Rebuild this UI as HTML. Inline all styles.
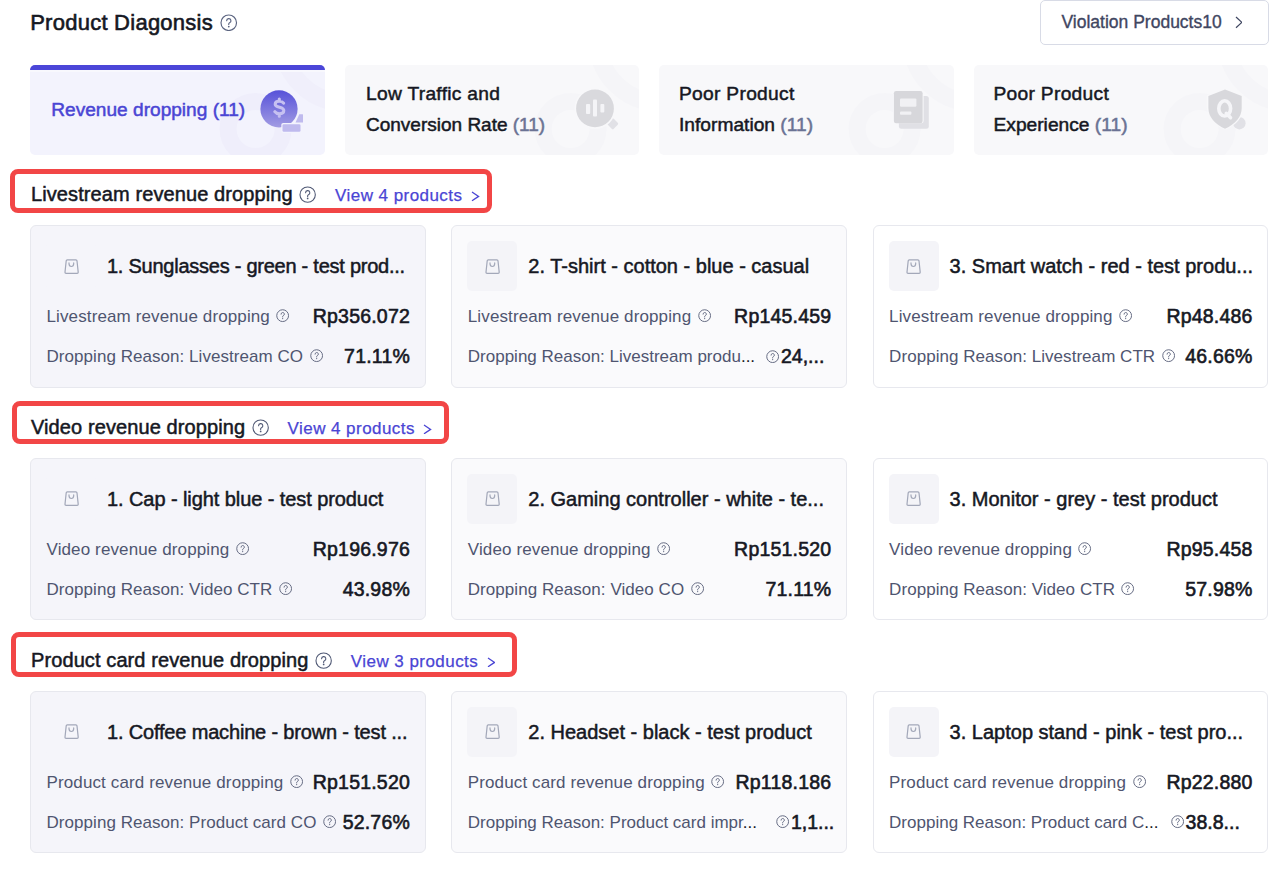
<!DOCTYPE html>
<html><head><meta charset="utf-8"><title>Product Diagnosis</title>
<style>
html,body{margin:0;padding:0;background:#fff;width:1280px;height:886px;overflow:hidden;position:relative}
body{font-family:"Liberation Sans",sans-serif}
.a{position:absolute;display:block}
.t{position:absolute;white-space:nowrap}
.tab{border-radius:5px;overflow:hidden}
</style></head><body>
<div class="t" style="left:30.2px;top:9.38px;font-size:22px;line-height:28px;color:#161823;font-weight:400;-webkit-text-stroke:0.6px #161823;letter-spacing:0.25px;">Product Diagonsis</div>
<svg class="a" style="left:220.3px;top:13.8px" width="17.5" height="17.5" viewBox="0 0 16 16"><circle cx="8" cy="8" r="7.1" fill="none" stroke="#5b6480" stroke-width="1.05"/><path d="M6.1 6.2a1.95 1.95 0 1 1 2.7 1.8c-.5.25-.8.55-.8 1.05v.55" fill="none" stroke="#5b6480" stroke-width="1.05" stroke-linecap="round"/><circle cx="8" cy="11.5" r=".8" fill="#5b6480"/></svg>
<div class="a" style="left:1040px;top:0px;width:228.6px;height:45px;border:1px solid #d8dbe6;border-radius:5px;box-sizing:border-box;background:#fff"></div>
<div class="t" style="left:1061.5px;top:10.94px;font-size:17.5px;line-height:22px;color:#3f4661;font-weight:400;-webkit-text-stroke:0.35px #3f4661;">Violation Products10</div>
<svg class="a" style="left:1234.6px;top:16.4px" width="7.8" height="12.8" viewBox="0 0 7.8 12.8"><path d="M1 1 L6.8 6.4 L1 11.8" fill="none" stroke="#3f4661" stroke-width="1.2" stroke-linejoin="miter"/></svg>
<div class="a tab" style="left:30px;top:65px;width:294.6px;height:90px;background:#f3f3fd"><svg class="a" style="left:0;top:0" width="294.6" height="90"><circle cx="225.6" cy="64" r="27.5" fill="none" stroke="#efeefb" stroke-width="17"/><circle cx="315" cy="-25" r="62.5" fill="none" stroke="#f0effb" stroke-width="18"/></svg><div class="a" style="left:0;top:5px;width:294.6px;height:2px;background:#f8f8fd"></div><div class="a" style="left:0;top:0;width:294.6px;height:5px;background:#4b46d8"></div></div>
<div class="a tab" style="left:344.6px;top:65px;width:294.6px;height:90px;background:#f8f8fa"><svg class="a" style="left:0;top:0" width="294.6" height="90"><circle cx="225.6" cy="64" r="27.5" fill="none" stroke="#f5f5f8" stroke-width="17"/><circle cx="315" cy="-25" r="62.5" fill="none" stroke="#f5f5f8" stroke-width="18"/></svg></div>
<div class="a tab" style="left:659.2px;top:65px;width:294.6px;height:90px;background:#f8f8fa"><svg class="a" style="left:0;top:0" width="294.6" height="90"><circle cx="225.6" cy="64" r="27.5" fill="none" stroke="#f5f5f8" stroke-width="17"/><circle cx="315" cy="-25" r="62.5" fill="none" stroke="#f5f5f8" stroke-width="18"/></svg></div>
<div class="a tab" style="left:973.8px;top:65px;width:294.6px;height:90px;background:#f8f8fa"><svg class="a" style="left:0;top:0" width="294.6" height="90"><circle cx="225.6" cy="64" r="27.5" fill="none" stroke="#f5f5f8" stroke-width="17"/><circle cx="315" cy="-25" r="62.5" fill="none" stroke="#f5f5f8" stroke-width="18"/></svg></div>
<div class="t" style="left:51.3px;top:97.68px;font-size:19.1px;line-height:24px;color:#4a45d4;font-weight:400;-webkit-text-stroke:0.5px #4a45d4;">Revenue dropping (11)</div>
<svg class="a" style="left:255px;top:85px" width="52" height="52" viewBox="0 0 52 52">
<defs><linearGradient id="cg" x1="0" y1="0" x2="0" y2="1"><stop offset="0" stop-color="#5752d9"/><stop offset="1" stop-color="#a29ce3"/></linearGradient></defs>
<circle cx="24" cy="23.9" r="18.6" fill="url(#cg)"/>
<path d="M28.6 18.2c-.8-1.2-2.3-1.9-4.3-1.9-2.5 0-4.1 1.2-4.1 2.9 0 4 8.6 2.3 8.6 6.3 0 1.9-1.8 3.2-4.5 3.2-2 0-3.6-.7-4.5-2M24.3 14v2.3M24.3 28.7v2.6" fill="none" stroke="#c6c1f1" stroke-width="3.1" stroke-linecap="round"/>
<rect x="26.3" y="38.0" width="20.4" height="10" rx="1.8" fill="#f3f3fd"/>
<rect x="27.5" y="39.2" width="18" height="7.6" rx="1.3" fill="#bfbaee"/>
<path d="M39 38 L43.5 28.2 L49 28.2 L49 38 Z" fill="#f3f3fd"/>
<path d="M40.5 37.4 L44.3 29.2 L47.8 29.2 Q48 29.2 48 29.6 L48 37.4 Z" fill="#bfbaee"/>
</svg>
<div class="t" style="left:366px;top:82.15px;font-size:19.2px;line-height:24px;color:#161823;font-weight:400;-webkit-text-stroke:0.5px #161823;letter-spacing:0.3px;">Low Traffic and</div>
<div class="t" style="left:366px;top:112.67px;font-size:19.0px;line-height:24px;color:#161823;font-weight:400;-webkit-text-stroke:0.5px #161823;">Conversion Rate <span style="color:#6b7394;-webkit-text-stroke:0.5px #6b7394">(11)</span></div>
<svg class="a" style="left:570px;top:84px" width="52" height="52" viewBox="0 0 52 52">
<rect x="38.5" y="35.5" width="8.5" height="8.5" rx="1.5" transform="rotate(45 42.75 39.75)" fill="#e1e1e6"/>
<circle cx="25" cy="24.4" r="20.6" fill="#f8f8fa"/>
<circle cx="25" cy="24.4" r="18.9" fill="#d9d9dd"/>
<rect x="16" y="20" width="4.2" height="10" rx="1" fill="#f4f4f7"/>
<rect x="23" y="15.5" width="4" height="17" rx="1" fill="#f4f4f7"/>
<rect x="30.4" y="20" width="3.9" height="8.5" rx="1" fill="#f4f4f7"/>
</svg>
<div class="t" style="left:679px;top:82.15px;font-size:19.2px;line-height:24px;color:#161823;font-weight:400;-webkit-text-stroke:0.5px #161823;letter-spacing:0.3px;">Poor Product</div>
<div class="t" style="left:679px;top:112.60px;font-size:19.2px;line-height:24px;color:#161823;font-weight:400;-webkit-text-stroke:0.5px #161823;">Information <span style="color:#6b7394;-webkit-text-stroke:0.5px #6b7394">(11)</span></div>
<svg class="a" style="left:885px;top:84px" width="52" height="52" viewBox="0 0 52 52">
<rect x="13.9" y="12" width="29.9" height="32.8" rx="2.5" fill="#e0e0e5"/>
<rect x="8" y="6" width="30.6" height="33.2" rx="2.5" fill="#f8f8fa"/>
<rect x="8.9" y="7" width="28.7" height="32.2" rx="2.2" fill="#d7d7db"/>
<rect x="15" y="14.4" width="16.4" height="8.4" rx="1.2" fill="#f1f1f4"/>
<rect x="15" y="27.4" width="11.4" height="3.3" rx="1" fill="#f1f1f4"/>
</svg>
<div class="t" style="left:993.5px;top:82.15px;font-size:19.2px;line-height:24px;color:#161823;font-weight:400;-webkit-text-stroke:0.5px #161823;letter-spacing:0.3px;">Poor Product</div>
<div class="t" style="left:993.5px;top:112.60px;font-size:19.2px;line-height:24px;color:#161823;font-weight:400;-webkit-text-stroke:0.5px #161823;">Experience <span style="color:#6b7394;-webkit-text-stroke:0.5px #6b7394">(11)</span></div>
<svg class="a" style="left:1200px;top:84px" width="52" height="52" viewBox="0 0 52 52">
<circle cx="39.4" cy="39.2" r="6.2" fill="#e1e1e6"/>
<path d="M25 4.6 L43.2 11.6 V24 C43.2 33.5 36 41.2 25 45.8 C14 41.2 6.9 33.5 6.9 24 V11.6 Z" fill="#f8f8fa"/>
<path d="M25 5.6 L41.7 12 V24 C41.7 33 35.2 40.2 25 44.8 C14.8 40.2 8.4 33 8.4 24 V12 Z" fill="#d8d8dc"/>
<ellipse cx="24.7" cy="24.4" rx="5.9" ry="7.6" fill="none" stroke="#f5f5f8" stroke-width="3.6"/><path d="M26.2 29.2 L30.6 33.8" stroke="#f5f5f8" stroke-width="3.4" stroke-linecap="round"/>
</svg>
<div class="a" style="left:9.5px;top:169px;width:482.0px;height:44px;border:5px solid #f24646;border-radius:8px;box-sizing:border-box"></div>
<div class="t" style="left:31px;top:182.27px;font-size:20px;line-height:25px;color:#161823;font-weight:400;-webkit-text-stroke:0.5px #161823;letter-spacing:0.1px;">Livestream revenue dropping<span style="margin-left:6.5px"></span><svg style="display:inline-block;vertical-align:-2.5px" width="17.3" height="17.3" viewBox="0 0 16 16"><circle cx="8" cy="8" r="7.1" fill="none" stroke="#4f5874" stroke-width="1.0"/><path d="M6.1 6.2a1.95 1.95 0 1 1 2.7 1.8c-.5.25-.8.55-.8 1.05v.55" fill="none" stroke="#4f5874" stroke-width="1.0" stroke-linecap="round"/><circle cx="8" cy="11.5" r=".8" fill="#4f5874"/></svg><span style="margin-left:18.5px;color:#4a45d4;-webkit-text-stroke:0.25px #4a45d4;font-size:17px;letter-spacing:0.45px">View 4 products</span><span style="margin-left:8.5px"></span><svg style="display:inline-block;vertical-align:-0.5px" width="8.6" height="10.8" viewBox="0 0 8.6 10.8"><path d="M1 1 L7.6 5.4 L1 9.8" fill="none" stroke="#4a45d4" stroke-width="1.3"/></svg></div>
<div class="a" style="left:30px;top:225.4px;width:395.8px;height:162.3px;border:1px solid #e7e8ee;border-radius:6px;box-sizing:border-box;background:#f5f5fa"></div>
<div class="a" style="left:46px;top:241.4px;width:50px;height:50px;background:#f5f5fa;border-radius:5px"></div>
<svg class="a" style="left:63.5px;top:258.7px" width="16" height="16" viewBox="0 0 16 16"><path d="M3.2 0.9 H11.9 Q12.9 0.9 13.0 1.9 L14.2 13.1 Q14.3 14.3 13.1 14.3 H2.1 Q0.9 14.3 1.0 13.1 L2.2 1.9 Q2.3 0.9 3.2 0.9 Z" fill="none" stroke="#a3a8b9" stroke-width="1.2"/><path d="M5.0 3.9 V4.6 Q5.0 7.5 7.35 7.5 Q9.7 7.5 9.7 4.6 V3.9" fill="none" stroke="#a3a8b9" stroke-width="1.2" stroke-linecap="round"/></svg>
<div class="t" style="left:107px;top:254.17px;font-size:20px;line-height:25px;color:#161823;font-weight:400;-webkit-text-stroke:0.5px #161823;letter-spacing:-0.25px;">1. Sunglasses - green - test prod...</div>
<div class="t" style="left:46.5px;top:306.41px;font-size:17px;line-height:21px;color:#4f5570;font-weight:400;letter-spacing:0.12px;">Livestream revenue dropping<span style="margin-left:6.5px"></span><svg style="display:inline-block;vertical-align:-0.3px" width="13.3" height="13.3" viewBox="0 0 16 16"><circle cx="8" cy="8" r="7.1" fill="none" stroke="#666c84" stroke-width="1.2"/><path d="M6.1 6.2a1.95 1.95 0 1 1 2.7 1.8c-.5.25-.8.55-.8 1.05v.55" fill="none" stroke="#666c84" stroke-width="1.2" stroke-linecap="round"/><circle cx="8" cy="11.5" r=".8" fill="#666c84"/></svg></div>
<div class="t" style="right:870px;top:304.04px;font-size:19.5px;line-height:24px;color:#161823;font-weight:400;-webkit-text-stroke:0.6px #161823;letter-spacing:0.2px;">Rp356.072</div>
<div class="t" style="left:46.5px;top:346.41px;font-size:17px;line-height:21px;color:#4f5570;font-weight:400;letter-spacing:0.05px;">Dropping Reason: Livestream CO<span style="margin-left:6.5px"></span><svg style="display:inline-block;vertical-align:-0.3px" width="13.3" height="13.3" viewBox="0 0 16 16"><circle cx="8" cy="8" r="7.1" fill="none" stroke="#666c84" stroke-width="1.2"/><path d="M6.1 6.2a1.95 1.95 0 1 1 2.7 1.8c-.5.25-.8.55-.8 1.05v.55" fill="none" stroke="#666c84" stroke-width="1.2" stroke-linecap="round"/><circle cx="8" cy="11.5" r=".8" fill="#666c84"/></svg></div>
<div class="t" style="right:870px;top:344.04px;font-size:19.5px;line-height:24px;color:#161823;font-weight:400;-webkit-text-stroke:0.6px #161823;letter-spacing:0.2px;">71.11%</div>
<div class="a" style="left:451.3px;top:225.4px;width:395.8px;height:162.3px;border:1px solid #e7e8ee;border-radius:6px;box-sizing:border-box;background:#fafafc"></div>
<div class="a" style="left:467.3px;top:241.4px;width:50px;height:50px;background:#f4f4f8;border-radius:5px"></div>
<svg class="a" style="left:484.8px;top:258.7px" width="16" height="16" viewBox="0 0 16 16"><path d="M3.2 0.9 H11.9 Q12.9 0.9 13.0 1.9 L14.2 13.1 Q14.3 14.3 13.1 14.3 H2.1 Q0.9 14.3 1.0 13.1 L2.2 1.9 Q2.3 0.9 3.2 0.9 Z" fill="none" stroke="#a3a8b9" stroke-width="1.2"/><path d="M5.0 3.9 V4.6 Q5.0 7.5 7.35 7.5 Q9.7 7.5 9.7 4.6 V3.9" fill="none" stroke="#a3a8b9" stroke-width="1.2" stroke-linecap="round"/></svg>
<div class="t" style="left:528.3px;top:254.17px;font-size:20px;line-height:25px;color:#161823;font-weight:400;-webkit-text-stroke:0.5px #161823;">2. T-shirt - cotton - blue - casual</div>
<div class="t" style="left:467.8px;top:306.41px;font-size:17px;line-height:21px;color:#4f5570;font-weight:400;letter-spacing:0.12px;">Livestream revenue dropping<span style="margin-left:6.5px"></span><svg style="display:inline-block;vertical-align:-0.3px" width="13.3" height="13.3" viewBox="0 0 16 16"><circle cx="8" cy="8" r="7.1" fill="none" stroke="#666c84" stroke-width="1.2"/><path d="M6.1 6.2a1.95 1.95 0 1 1 2.7 1.8c-.5.25-.8.55-.8 1.05v.55" fill="none" stroke="#666c84" stroke-width="1.2" stroke-linecap="round"/><circle cx="8" cy="11.5" r=".8" fill="#666c84"/></svg></div>
<div class="t" style="right:448.70000000000005px;top:304.04px;font-size:19.5px;line-height:24px;color:#161823;font-weight:400;-webkit-text-stroke:0.6px #161823;letter-spacing:0.2px;">Rp145.459</div>
<div class="t" style="left:467.8px;top:346.41px;font-size:17px;line-height:21px;color:#4f5570;font-weight:400;">Dropping Reason: Livestream produ<span style="color:#161823">...</span></div>
<svg class="a" style="left:766.0px;top:349.8px" width="13.3" height="13.3" viewBox="0 0 16 16"><circle cx="8" cy="8" r="7.1" fill="none" stroke="#666c84" stroke-width="1.2"/><path d="M6.1 6.2a1.95 1.95 0 1 1 2.7 1.8c-.5.25-.8.55-.8 1.05v.55" fill="none" stroke="#666c84" stroke-width="1.2" stroke-linecap="round"/><circle cx="8" cy="11.5" r=".8" fill="#666c84"/></svg>
<div class="t" style="left:781.0px;top:344.04px;font-size:19.5px;line-height:24px;color:#161823;font-weight:400;-webkit-text-stroke:0.6px #161823;">24,...</div>
<div class="a" style="left:872.6px;top:225.4px;width:395.8px;height:162.3px;border:1px solid #e7e8ee;border-radius:6px;box-sizing:border-box;background:#fff"></div>
<div class="a" style="left:888.6px;top:241.4px;width:50px;height:50px;background:#f4f4f8;border-radius:5px"></div>
<svg class="a" style="left:906.1px;top:258.7px" width="16" height="16" viewBox="0 0 16 16"><path d="M3.2 0.9 H11.9 Q12.9 0.9 13.0 1.9 L14.2 13.1 Q14.3 14.3 13.1 14.3 H2.1 Q0.9 14.3 1.0 13.1 L2.2 1.9 Q2.3 0.9 3.2 0.9 Z" fill="none" stroke="#a3a8b9" stroke-width="1.2"/><path d="M5.0 3.9 V4.6 Q5.0 7.5 7.35 7.5 Q9.7 7.5 9.7 4.6 V3.9" fill="none" stroke="#a3a8b9" stroke-width="1.2" stroke-linecap="round"/></svg>
<div class="t" style="left:949.6px;top:254.17px;font-size:20px;line-height:25px;color:#161823;font-weight:400;-webkit-text-stroke:0.5px #161823;">3. Smart watch - red - test produ...</div>
<div class="t" style="left:889.1px;top:306.41px;font-size:17px;line-height:21px;color:#4f5570;font-weight:400;letter-spacing:0.12px;">Livestream revenue dropping<span style="margin-left:6.5px"></span><svg style="display:inline-block;vertical-align:-0.3px" width="13.3" height="13.3" viewBox="0 0 16 16"><circle cx="8" cy="8" r="7.1" fill="none" stroke="#666c84" stroke-width="1.2"/><path d="M6.1 6.2a1.95 1.95 0 1 1 2.7 1.8c-.5.25-.8.55-.8 1.05v.55" fill="none" stroke="#666c84" stroke-width="1.2" stroke-linecap="round"/><circle cx="8" cy="11.5" r=".8" fill="#666c84"/></svg></div>
<div class="t" style="right:27.40000000000009px;top:304.04px;font-size:19.5px;line-height:24px;color:#161823;font-weight:400;-webkit-text-stroke:0.6px #161823;letter-spacing:0.2px;">Rp48.486</div>
<div class="t" style="left:889.1px;top:346.41px;font-size:17px;line-height:21px;color:#4f5570;font-weight:400;letter-spacing:0.05px;">Dropping Reason: Livestream CTR<span style="margin-left:6.5px"></span><svg style="display:inline-block;vertical-align:-0.3px" width="13.3" height="13.3" viewBox="0 0 16 16"><circle cx="8" cy="8" r="7.1" fill="none" stroke="#666c84" stroke-width="1.2"/><path d="M6.1 6.2a1.95 1.95 0 1 1 2.7 1.8c-.5.25-.8.55-.8 1.05v.55" fill="none" stroke="#666c84" stroke-width="1.2" stroke-linecap="round"/><circle cx="8" cy="11.5" r=".8" fill="#666c84"/></svg></div>
<div class="t" style="right:27.40000000000009px;top:344.04px;font-size:19.5px;line-height:24px;color:#161823;font-weight:400;-webkit-text-stroke:0.6px #161823;letter-spacing:0.2px;">46.66%</div>
<div class="a" style="left:12.2px;top:401px;width:436.6px;height:42.80000000000001px;border:5px solid #f24646;border-radius:8px;box-sizing:border-box"></div>
<div class="t" style="left:31px;top:414.97px;font-size:20px;line-height:25px;color:#161823;font-weight:400;-webkit-text-stroke:0.5px #161823;letter-spacing:0.1px;">Video revenue dropping<span style="margin-left:6.5px"></span><svg style="display:inline-block;vertical-align:-2.5px" width="17.3" height="17.3" viewBox="0 0 16 16"><circle cx="8" cy="8" r="7.1" fill="none" stroke="#4f5874" stroke-width="1.0"/><path d="M6.1 6.2a1.95 1.95 0 1 1 2.7 1.8c-.5.25-.8.55-.8 1.05v.55" fill="none" stroke="#4f5874" stroke-width="1.0" stroke-linecap="round"/><circle cx="8" cy="11.5" r=".8" fill="#4f5874"/></svg><span style="margin-left:18.5px;color:#4a45d4;-webkit-text-stroke:0.25px #4a45d4;font-size:17px;letter-spacing:0.45px">View 4 products</span><span style="margin-left:8.5px"></span><svg style="display:inline-block;vertical-align:-0.5px" width="8.6" height="10.8" viewBox="0 0 8.6 10.8"><path d="M1 1 L7.6 5.4 L1 9.8" fill="none" stroke="#4a45d4" stroke-width="1.3"/></svg></div>
<div class="a" style="left:30px;top:458.1px;width:395.8px;height:162.3px;border:1px solid #e7e8ee;border-radius:6px;box-sizing:border-box;background:#f5f5fa"></div>
<div class="a" style="left:46px;top:474.1px;width:50px;height:50px;background:#f5f5fa;border-radius:5px"></div>
<svg class="a" style="left:63.5px;top:491.40000000000003px" width="16" height="16" viewBox="0 0 16 16"><path d="M3.2 0.9 H11.9 Q12.9 0.9 13.0 1.9 L14.2 13.1 Q14.3 14.3 13.1 14.3 H2.1 Q0.9 14.3 1.0 13.1 L2.2 1.9 Q2.3 0.9 3.2 0.9 Z" fill="none" stroke="#a3a8b9" stroke-width="1.2"/><path d="M5.0 3.9 V4.6 Q5.0 7.5 7.35 7.5 Q9.7 7.5 9.7 4.6 V3.9" fill="none" stroke="#a3a8b9" stroke-width="1.2" stroke-linecap="round"/></svg>
<div class="t" style="left:107px;top:486.87px;font-size:20px;line-height:25px;color:#161823;font-weight:400;-webkit-text-stroke:0.5px #161823;letter-spacing:-0.08px;">1. Cap - light blue - test product</div>
<div class="t" style="left:46.5px;top:539.11px;font-size:17px;line-height:21px;color:#4f5570;font-weight:400;letter-spacing:0.12px;">Video revenue dropping<span style="margin-left:6.5px"></span><svg style="display:inline-block;vertical-align:-0.3px" width="13.3" height="13.3" viewBox="0 0 16 16"><circle cx="8" cy="8" r="7.1" fill="none" stroke="#666c84" stroke-width="1.2"/><path d="M6.1 6.2a1.95 1.95 0 1 1 2.7 1.8c-.5.25-.8.55-.8 1.05v.55" fill="none" stroke="#666c84" stroke-width="1.2" stroke-linecap="round"/><circle cx="8" cy="11.5" r=".8" fill="#666c84"/></svg></div>
<div class="t" style="right:870px;top:536.74px;font-size:19.5px;line-height:24px;color:#161823;font-weight:400;-webkit-text-stroke:0.6px #161823;letter-spacing:0.2px;">Rp196.976</div>
<div class="t" style="left:46.5px;top:579.11px;font-size:17px;line-height:21px;color:#4f5570;font-weight:400;letter-spacing:0.05px;">Dropping Reason: Video CTR<span style="margin-left:6.5px"></span><svg style="display:inline-block;vertical-align:-0.3px" width="13.3" height="13.3" viewBox="0 0 16 16"><circle cx="8" cy="8" r="7.1" fill="none" stroke="#666c84" stroke-width="1.2"/><path d="M6.1 6.2a1.95 1.95 0 1 1 2.7 1.8c-.5.25-.8.55-.8 1.05v.55" fill="none" stroke="#666c84" stroke-width="1.2" stroke-linecap="round"/><circle cx="8" cy="11.5" r=".8" fill="#666c84"/></svg></div>
<div class="t" style="right:870px;top:576.74px;font-size:19.5px;line-height:24px;color:#161823;font-weight:400;-webkit-text-stroke:0.6px #161823;letter-spacing:0.2px;">43.98%</div>
<div class="a" style="left:451.3px;top:458.1px;width:395.8px;height:162.3px;border:1px solid #e7e8ee;border-radius:6px;box-sizing:border-box;background:#fafafc"></div>
<div class="a" style="left:467.3px;top:474.1px;width:50px;height:50px;background:#f4f4f8;border-radius:5px"></div>
<svg class="a" style="left:484.8px;top:491.40000000000003px" width="16" height="16" viewBox="0 0 16 16"><path d="M3.2 0.9 H11.9 Q12.9 0.9 13.0 1.9 L14.2 13.1 Q14.3 14.3 13.1 14.3 H2.1 Q0.9 14.3 1.0 13.1 L2.2 1.9 Q2.3 0.9 3.2 0.9 Z" fill="none" stroke="#a3a8b9" stroke-width="1.2"/><path d="M5.0 3.9 V4.6 Q5.0 7.5 7.35 7.5 Q9.7 7.5 9.7 4.6 V3.9" fill="none" stroke="#a3a8b9" stroke-width="1.2" stroke-linecap="round"/></svg>
<div class="t" style="left:528.3px;top:486.87px;font-size:20px;line-height:25px;color:#161823;font-weight:400;-webkit-text-stroke:0.5px #161823;">2. Gaming controller - white - te...</div>
<div class="t" style="left:467.8px;top:539.11px;font-size:17px;line-height:21px;color:#4f5570;font-weight:400;letter-spacing:0.12px;">Video revenue dropping<span style="margin-left:6.5px"></span><svg style="display:inline-block;vertical-align:-0.3px" width="13.3" height="13.3" viewBox="0 0 16 16"><circle cx="8" cy="8" r="7.1" fill="none" stroke="#666c84" stroke-width="1.2"/><path d="M6.1 6.2a1.95 1.95 0 1 1 2.7 1.8c-.5.25-.8.55-.8 1.05v.55" fill="none" stroke="#666c84" stroke-width="1.2" stroke-linecap="round"/><circle cx="8" cy="11.5" r=".8" fill="#666c84"/></svg></div>
<div class="t" style="right:448.70000000000005px;top:536.74px;font-size:19.5px;line-height:24px;color:#161823;font-weight:400;-webkit-text-stroke:0.6px #161823;letter-spacing:0.2px;">Rp151.520</div>
<div class="t" style="left:467.8px;top:579.11px;font-size:17px;line-height:21px;color:#4f5570;font-weight:400;letter-spacing:0.05px;">Dropping Reason: Video CO<span style="margin-left:6.5px"></span><svg style="display:inline-block;vertical-align:-0.3px" width="13.3" height="13.3" viewBox="0 0 16 16"><circle cx="8" cy="8" r="7.1" fill="none" stroke="#666c84" stroke-width="1.2"/><path d="M6.1 6.2a1.95 1.95 0 1 1 2.7 1.8c-.5.25-.8.55-.8 1.05v.55" fill="none" stroke="#666c84" stroke-width="1.2" stroke-linecap="round"/><circle cx="8" cy="11.5" r=".8" fill="#666c84"/></svg></div>
<div class="t" style="right:448.70000000000005px;top:576.74px;font-size:19.5px;line-height:24px;color:#161823;font-weight:400;-webkit-text-stroke:0.6px #161823;letter-spacing:0.2px;">71.11%</div>
<div class="a" style="left:872.6px;top:458.1px;width:395.8px;height:162.3px;border:1px solid #e7e8ee;border-radius:6px;box-sizing:border-box;background:#fff"></div>
<div class="a" style="left:888.6px;top:474.1px;width:50px;height:50px;background:#f4f4f8;border-radius:5px"></div>
<svg class="a" style="left:906.1px;top:491.40000000000003px" width="16" height="16" viewBox="0 0 16 16"><path d="M3.2 0.9 H11.9 Q12.9 0.9 13.0 1.9 L14.2 13.1 Q14.3 14.3 13.1 14.3 H2.1 Q0.9 14.3 1.0 13.1 L2.2 1.9 Q2.3 0.9 3.2 0.9 Z" fill="none" stroke="#a3a8b9" stroke-width="1.2"/><path d="M5.0 3.9 V4.6 Q5.0 7.5 7.35 7.5 Q9.7 7.5 9.7 4.6 V3.9" fill="none" stroke="#a3a8b9" stroke-width="1.2" stroke-linecap="round"/></svg>
<div class="t" style="left:949.6px;top:486.87px;font-size:20px;line-height:25px;color:#161823;font-weight:400;-webkit-text-stroke:0.5px #161823;">3. Monitor - grey - test product</div>
<div class="t" style="left:889.1px;top:539.11px;font-size:17px;line-height:21px;color:#4f5570;font-weight:400;letter-spacing:0.12px;">Video revenue dropping<span style="margin-left:6.5px"></span><svg style="display:inline-block;vertical-align:-0.3px" width="13.3" height="13.3" viewBox="0 0 16 16"><circle cx="8" cy="8" r="7.1" fill="none" stroke="#666c84" stroke-width="1.2"/><path d="M6.1 6.2a1.95 1.95 0 1 1 2.7 1.8c-.5.25-.8.55-.8 1.05v.55" fill="none" stroke="#666c84" stroke-width="1.2" stroke-linecap="round"/><circle cx="8" cy="11.5" r=".8" fill="#666c84"/></svg></div>
<div class="t" style="right:27.40000000000009px;top:536.74px;font-size:19.5px;line-height:24px;color:#161823;font-weight:400;-webkit-text-stroke:0.6px #161823;letter-spacing:0.2px;">Rp95.458</div>
<div class="t" style="left:889.1px;top:579.11px;font-size:17px;line-height:21px;color:#4f5570;font-weight:400;letter-spacing:0.05px;">Dropping Reason: Video CTR<span style="margin-left:6.5px"></span><svg style="display:inline-block;vertical-align:-0.3px" width="13.3" height="13.3" viewBox="0 0 16 16"><circle cx="8" cy="8" r="7.1" fill="none" stroke="#666c84" stroke-width="1.2"/><path d="M6.1 6.2a1.95 1.95 0 1 1 2.7 1.8c-.5.25-.8.55-.8 1.05v.55" fill="none" stroke="#666c84" stroke-width="1.2" stroke-linecap="round"/><circle cx="8" cy="11.5" r=".8" fill="#666c84"/></svg></div>
<div class="t" style="right:27.40000000000009px;top:576.74px;font-size:19.5px;line-height:24px;color:#161823;font-weight:400;-webkit-text-stroke:0.6px #161823;letter-spacing:0.2px;">57.98%</div>
<div class="a" style="left:10.8px;top:632px;width:506.09999999999997px;height:44.89999999999998px;border:5px solid #f24646;border-radius:8px;box-sizing:border-box"></div>
<div class="t" style="left:31px;top:647.97px;font-size:20px;line-height:25px;color:#161823;font-weight:400;-webkit-text-stroke:0.5px #161823;letter-spacing:0.1px;">Product card revenue dropping<span style="margin-left:6.5px"></span><svg style="display:inline-block;vertical-align:-2.5px" width="17.3" height="17.3" viewBox="0 0 16 16"><circle cx="8" cy="8" r="7.1" fill="none" stroke="#4f5874" stroke-width="1.0"/><path d="M6.1 6.2a1.95 1.95 0 1 1 2.7 1.8c-.5.25-.8.55-.8 1.05v.55" fill="none" stroke="#4f5874" stroke-width="1.0" stroke-linecap="round"/><circle cx="8" cy="11.5" r=".8" fill="#4f5874"/></svg><span style="margin-left:18.5px;color:#4a45d4;-webkit-text-stroke:0.25px #4a45d4;font-size:17px;letter-spacing:0.45px">View 3 products</span><span style="margin-left:8.5px"></span><svg style="display:inline-block;vertical-align:-0.5px" width="8.6" height="10.8" viewBox="0 0 8.6 10.8"><path d="M1 1 L7.6 5.4 L1 9.8" fill="none" stroke="#4a45d4" stroke-width="1.3"/></svg></div>
<div class="a" style="left:30px;top:690.9px;width:395.8px;height:162.3px;border:1px solid #e7e8ee;border-radius:6px;box-sizing:border-box;background:#f5f5fa"></div>
<div class="a" style="left:46px;top:706.9px;width:50px;height:50px;background:#f5f5fa;border-radius:5px"></div>
<svg class="a" style="left:63.5px;top:724.1999999999999px" width="16" height="16" viewBox="0 0 16 16"><path d="M3.2 0.9 H11.9 Q12.9 0.9 13.0 1.9 L14.2 13.1 Q14.3 14.3 13.1 14.3 H2.1 Q0.9 14.3 1.0 13.1 L2.2 1.9 Q2.3 0.9 3.2 0.9 Z" fill="none" stroke="#a3a8b9" stroke-width="1.2"/><path d="M5.0 3.9 V4.6 Q5.0 7.5 7.35 7.5 Q9.7 7.5 9.7 4.6 V3.9" fill="none" stroke="#a3a8b9" stroke-width="1.2" stroke-linecap="round"/></svg>
<div class="t" style="left:107px;top:719.67px;font-size:20px;line-height:25px;color:#161823;font-weight:400;-webkit-text-stroke:0.5px #161823;letter-spacing:-0.17px;">1. Coffee machine - brown - test ...</div>
<div class="t" style="left:46.5px;top:771.91px;font-size:17px;line-height:21px;color:#4f5570;font-weight:400;letter-spacing:0.12px;">Product card revenue dropping<span style="margin-left:6.5px"></span><svg style="display:inline-block;vertical-align:-0.3px" width="13.3" height="13.3" viewBox="0 0 16 16"><circle cx="8" cy="8" r="7.1" fill="none" stroke="#666c84" stroke-width="1.2"/><path d="M6.1 6.2a1.95 1.95 0 1 1 2.7 1.8c-.5.25-.8.55-.8 1.05v.55" fill="none" stroke="#666c84" stroke-width="1.2" stroke-linecap="round"/><circle cx="8" cy="11.5" r=".8" fill="#666c84"/></svg></div>
<div class="t" style="right:870px;top:769.54px;font-size:19.5px;line-height:24px;color:#161823;font-weight:400;-webkit-text-stroke:0.6px #161823;letter-spacing:0.2px;">Rp151.520</div>
<div class="t" style="left:46.5px;top:811.91px;font-size:17px;line-height:21px;color:#4f5570;font-weight:400;letter-spacing:0.05px;">Dropping Reason: Product card CO<span style="margin-left:6.5px"></span><svg style="display:inline-block;vertical-align:-0.3px" width="13.3" height="13.3" viewBox="0 0 16 16"><circle cx="8" cy="8" r="7.1" fill="none" stroke="#666c84" stroke-width="1.2"/><path d="M6.1 6.2a1.95 1.95 0 1 1 2.7 1.8c-.5.25-.8.55-.8 1.05v.55" fill="none" stroke="#666c84" stroke-width="1.2" stroke-linecap="round"/><circle cx="8" cy="11.5" r=".8" fill="#666c84"/></svg></div>
<div class="t" style="right:870px;top:809.54px;font-size:19.5px;line-height:24px;color:#161823;font-weight:400;-webkit-text-stroke:0.6px #161823;letter-spacing:0.2px;">52.76%</div>
<div class="a" style="left:451.3px;top:690.9px;width:395.8px;height:162.3px;border:1px solid #e7e8ee;border-radius:6px;box-sizing:border-box;background:#fafafc"></div>
<div class="a" style="left:467.3px;top:706.9px;width:50px;height:50px;background:#f4f4f8;border-radius:5px"></div>
<svg class="a" style="left:484.8px;top:724.1999999999999px" width="16" height="16" viewBox="0 0 16 16"><path d="M3.2 0.9 H11.9 Q12.9 0.9 13.0 1.9 L14.2 13.1 Q14.3 14.3 13.1 14.3 H2.1 Q0.9 14.3 1.0 13.1 L2.2 1.9 Q2.3 0.9 3.2 0.9 Z" fill="none" stroke="#a3a8b9" stroke-width="1.2"/><path d="M5.0 3.9 V4.6 Q5.0 7.5 7.35 7.5 Q9.7 7.5 9.7 4.6 V3.9" fill="none" stroke="#a3a8b9" stroke-width="1.2" stroke-linecap="round"/></svg>
<div class="t" style="left:528.3px;top:719.67px;font-size:20px;line-height:25px;color:#161823;font-weight:400;-webkit-text-stroke:0.5px #161823;">2. Headset - black - test product</div>
<div class="t" style="left:467.8px;top:771.91px;font-size:17px;line-height:21px;color:#4f5570;font-weight:400;letter-spacing:0.12px;">Product card revenue dropping<span style="margin-left:6.5px"></span><svg style="display:inline-block;vertical-align:-0.3px" width="13.3" height="13.3" viewBox="0 0 16 16"><circle cx="8" cy="8" r="7.1" fill="none" stroke="#666c84" stroke-width="1.2"/><path d="M6.1 6.2a1.95 1.95 0 1 1 2.7 1.8c-.5.25-.8.55-.8 1.05v.55" fill="none" stroke="#666c84" stroke-width="1.2" stroke-linecap="round"/><circle cx="8" cy="11.5" r=".8" fill="#666c84"/></svg></div>
<div class="t" style="right:448.70000000000005px;top:769.54px;font-size:19.5px;line-height:24px;color:#161823;font-weight:400;-webkit-text-stroke:0.6px #161823;letter-spacing:0.2px;">Rp118.186</div>
<div class="t" style="left:467.8px;top:811.91px;font-size:17px;line-height:21px;color:#4f5570;font-weight:400;">Dropping Reason: Product card impr<span style="color:#161823">...</span></div>
<svg class="a" style="left:776.3px;top:815.3px" width="13.3" height="13.3" viewBox="0 0 16 16"><circle cx="8" cy="8" r="7.1" fill="none" stroke="#666c84" stroke-width="1.2"/><path d="M6.1 6.2a1.95 1.95 0 1 1 2.7 1.8c-.5.25-.8.55-.8 1.05v.55" fill="none" stroke="#666c84" stroke-width="1.2" stroke-linecap="round"/><circle cx="8" cy="11.5" r=".8" fill="#666c84"/></svg>
<div class="t" style="left:790.9px;top:809.54px;font-size:19.5px;line-height:24px;color:#161823;font-weight:400;-webkit-text-stroke:0.6px #161823;">1,1...</div>
<div class="a" style="left:872.6px;top:690.9px;width:395.8px;height:162.3px;border:1px solid #e7e8ee;border-radius:6px;box-sizing:border-box;background:#fff"></div>
<div class="a" style="left:888.6px;top:706.9px;width:50px;height:50px;background:#f4f4f8;border-radius:5px"></div>
<svg class="a" style="left:906.1px;top:724.1999999999999px" width="16" height="16" viewBox="0 0 16 16"><path d="M3.2 0.9 H11.9 Q12.9 0.9 13.0 1.9 L14.2 13.1 Q14.3 14.3 13.1 14.3 H2.1 Q0.9 14.3 1.0 13.1 L2.2 1.9 Q2.3 0.9 3.2 0.9 Z" fill="none" stroke="#a3a8b9" stroke-width="1.2"/><path d="M5.0 3.9 V4.6 Q5.0 7.5 7.35 7.5 Q9.7 7.5 9.7 4.6 V3.9" fill="none" stroke="#a3a8b9" stroke-width="1.2" stroke-linecap="round"/></svg>
<div class="t" style="left:949.6px;top:719.67px;font-size:20px;line-height:25px;color:#161823;font-weight:400;-webkit-text-stroke:0.5px #161823;">3. Laptop stand - pink - test pro...</div>
<div class="t" style="left:889.1px;top:771.91px;font-size:17px;line-height:21px;color:#4f5570;font-weight:400;letter-spacing:0.12px;">Product card revenue dropping<span style="margin-left:6.5px"></span><svg style="display:inline-block;vertical-align:-0.3px" width="13.3" height="13.3" viewBox="0 0 16 16"><circle cx="8" cy="8" r="7.1" fill="none" stroke="#666c84" stroke-width="1.2"/><path d="M6.1 6.2a1.95 1.95 0 1 1 2.7 1.8c-.5.25-.8.55-.8 1.05v.55" fill="none" stroke="#666c84" stroke-width="1.2" stroke-linecap="round"/><circle cx="8" cy="11.5" r=".8" fill="#666c84"/></svg></div>
<div class="t" style="right:27.40000000000009px;top:769.54px;font-size:19.5px;line-height:24px;color:#161823;font-weight:400;-webkit-text-stroke:0.6px #161823;letter-spacing:0.2px;">Rp22.880</div>
<div class="t" style="left:889.1px;top:811.91px;font-size:17px;line-height:21px;color:#4f5570;font-weight:400;">Dropping Reason: Product card C<span style="color:#161823">...</span></div>
<svg class="a" style="left:1170.9px;top:815.3px" width="13.3" height="13.3" viewBox="0 0 16 16"><circle cx="8" cy="8" r="7.1" fill="none" stroke="#666c84" stroke-width="1.2"/><path d="M6.1 6.2a1.95 1.95 0 1 1 2.7 1.8c-.5.25-.8.55-.8 1.05v.55" fill="none" stroke="#666c84" stroke-width="1.2" stroke-linecap="round"/><circle cx="8" cy="11.5" r=".8" fill="#666c84"/></svg>
<div class="t" style="left:1185.6px;top:809.54px;font-size:19.5px;line-height:24px;color:#161823;font-weight:400;-webkit-text-stroke:0.6px #161823;">38.8...</div>
</body></html>
